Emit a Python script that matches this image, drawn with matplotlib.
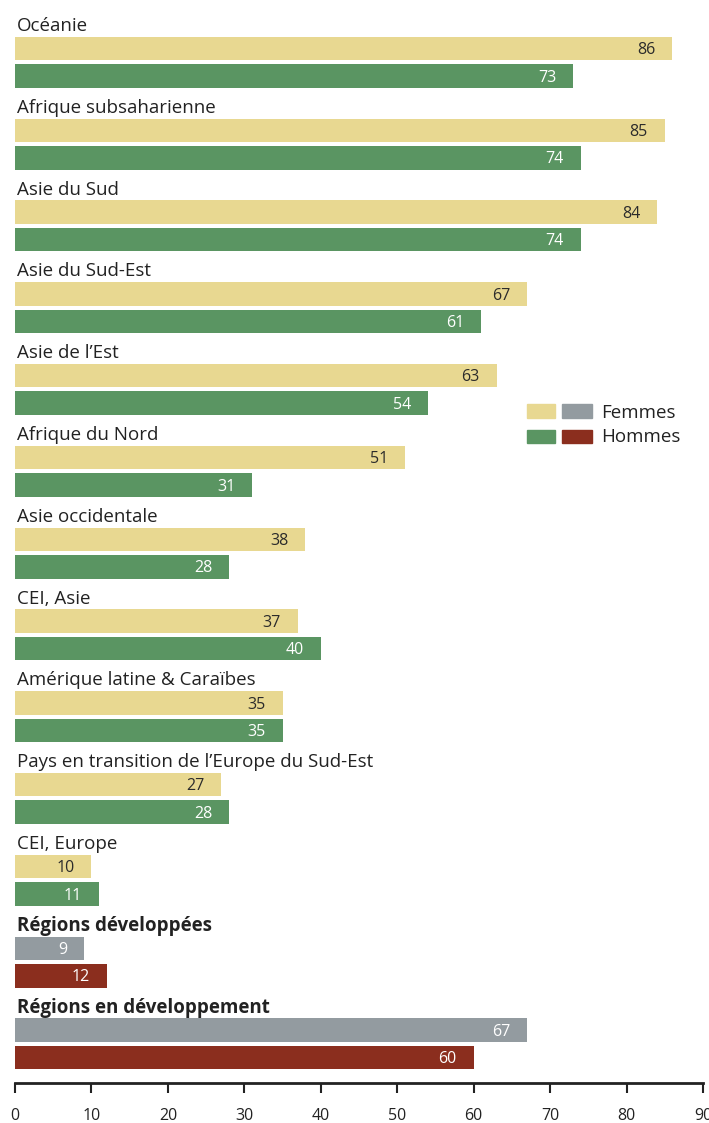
import matplotlib
matplotlib.use("Agg")
import matplotlib.pyplot as plt
from matplotlib.patches import Rectangle

plt.rcParams['font.family'] = ['Open Sans', 'DejaVu Sans']

regions = ["Océanie", "Afrique subsaharienne", "Asie du Sud", "Asie du Sud-Est",
           "Asie de l’Est", "Afrique du Nord", "Asie occidentale", "CEI, Asie",
           "Amérique latine & Caraïbes", "Pays en transition de l’Europe du Sud-Est",
           "CEI, Europe", "Régions développées", "Régions en développement"]
femmes = [86, 85, 84, 67, 63, 51, 38, 37, 35, 27, 10, 9, 67]
hommes = [73, 74, 74, 61, 54, 31, 28, 40, 35, 28, 11, 12, 60]
aggregate = [False] * 11 + [True, True]
xticks = [0, 10, 20, 30, 40, 50, 60, 70, 80, 90]

C_F, C_H = "#E8D891", "#5A9562"
C_FA, C_HA = "#939BA0", "#8B2E1E"

W, H = 709, 1123
fig = plt.figure(figsize=(W / 100, H / 100), dpi=100)
ax = fig.add_axes([15 / W, 1 - 1083 / H, (703 - 15) / W, 1083 / H])

pitch = 81.8
off_h = 27.5 / pitch
off_lab = 22.5 / pitch
bh = 23.5 / pitch

for i, (r, f, h, agg) in enumerate(zip(regions, femmes, hommes, aggregate)):
    cf, ch = (C_FA, C_HA) if agg else (C_F, C_H)
    ax.barh(i, f, height=bh, color=cf, align='center')
    ax.barh(i + off_h, h, height=bh, color=ch, align='center')
    ax.text(f - 2.2, i + 0.02, str(f), ha='right', va='center', fontsize=11.5,
            color='white' if agg else '#2b2b2b')
    ax.text(h - 2.2, i + off_h + 0.02, str(h), ha='right', va='center', fontsize=11.5,
            color='white')
    ax.text(0.2, i - off_lab, r, ha='left', va='center', fontsize=13.5,
            color='#222222', fontweight='bold' if agg else 'normal')

ax.set_xlim(0, 90)
ax.set_ylim((1083 - 48.5) / pitch, -48.5 / pitch)
for s in ['top', 'right', 'left']:
    ax.spines[s].set_visible(False)
ax.spines['bottom'].set_linewidth(2)
ax.spines['bottom'].set_color('#222222')
ax.set_yticks([])
ax.set_xticks(xticks)
ax.tick_params(axis='x', direction='out', length=7, width=1.5, color='#222222',
               labelsize=11.5, pad=11, labelcolor='#222222')
ax.patch.set_alpha(0)

# legend
def frect(x0, y0, x1, y1, c):
    fig.patches.append(Rectangle((x0 / W, 1 - y1 / H), (x1 - x0) / W, (y1 - y0) / H,
                                 transform=fig.transFigure, color=c))
frect(527, 404, 555, 418, C_F)
frect(562, 404, 592, 418, C_FA)
frect(527, 430, 555, 443, C_H)
frect(562, 430, 592, 443, C_HA)
fig.text(601 / W, 1 - 413 / H, "Femmes", fontsize=13.5, va='center', ha='left', color='#222222')
fig.text(601 / W, 1 - 437 / H, "Hommes", fontsize=13.5, va='center', ha='left', color='#222222')

fig.savefig("out.png", dpi=100)
